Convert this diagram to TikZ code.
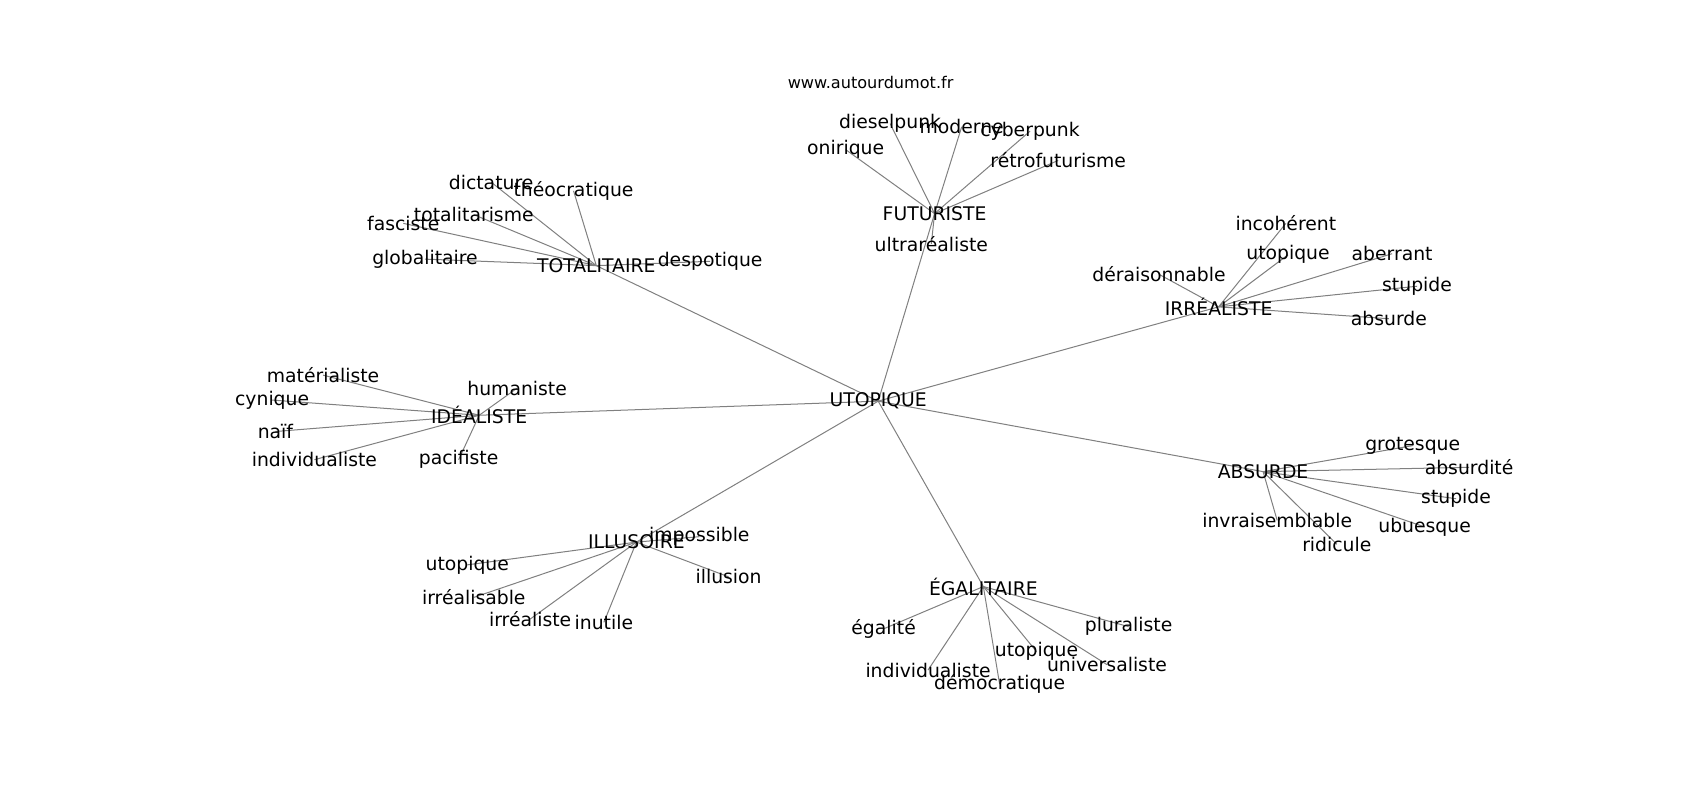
\documentclass[tikz,border=0pt]{standalone}
\usepackage{fontspec}
\setmainfont{DejaVu Sans}
\usepackage{tikz}
\usetikzlibrary{backgrounds}
\tikzset{
  palabra/.style={inner sep=0pt, font=\fontsize{14}{16}\selectfont, text=black},
  arista/.style={draw=gray, line width=0.75pt},
}

\begin{document}
\begin{tikzpicture}[x=0.2839mm, y=-0.2839mm]
  \useasboundingbox (0,0) rectangle (1568,738);
  % Título del sitio
  \node[font=\fontsize{12}{14}\selectfont] (web) at (803,76) {www.autourdumot.fr};
  % Palabra central y sus vecinos
  \node[palabra] (utopique) at (810,370) {UTOPIQUE};
  \foreach \n/\x/\y/\t in {totalitaire/550/245/TOTALITAIRE, futuriste/862/197/FUTURISTE,
      irrealiste/1124/283/IRRÉALISTE, idealiste/442/383/IDÉALISTE, absurde/1165/435/ABSURDE,
      illusoire/587/500/ILLUSOIRE, egalitaire/907/541/ÉGALITAIRE} {
    \node[palabra] (\n) at (\x,\y) {\t};
    \begin{pgfonlayer}{background}
      \draw[arista] (utopique.center) -- (\n.center);
    \end{pgfonlayer}
  }
  % Hojas de cada grupo
  \foreach \x/\y/\t [count=\i] in {453/168/dictature, 529/176/théocratique, 437/198/totalitarisme,
      372/206/fasciste, 392/239/globalitaire, 655/241/despotique} {
    \node[palabra] (totalitaire-\i) at (\x,\y) {\t};
    \begin{pgfonlayer}{background}
      \draw[arista] (totalitaire.center) -- (totalitaire-\i.center);
    \end{pgfonlayer}
  }
  \foreach \x/\y/\t [count=\i] in {821/114/dieselpunk, 887/117/moderne, 950/121/cyberpunk,
      780/138/onirique, 976/148/rétrofuturisme, 859/225/ultraréaliste} {
    \node[palabra] (futuriste-\i) at (\x,\y) {\t};
    \begin{pgfonlayer}{background}
      \draw[arista] (futuriste.center) -- (futuriste-\i.center);
    \end{pgfonlayer}
  }
  \foreach \x/\y/\t [count=\i] in {1186/206/incohérent, 1188/235/utopique, 1284/234/aberrant,
      1069/253/déraisonnable, 1307/264/stupide, 1281/294/absurde} {
    \node[palabra] (irrealiste-\i) at (\x,\y) {\t};
    \begin{pgfonlayer}{background}
      \draw[arista] (irrealiste.center) -- (irrealiste-\i.center);
    \end{pgfonlayer}
  }
  \foreach \x/\y/\t [count=\i] in {298/346/matérialiste, 477/358/humaniste, 251/369/cynique,
      254/398/naïf, 290/424/individualiste, 423/424/pacifiste} {
    \node[palabra] (idealiste-\i) at (\x,\y) {\t};
    \begin{pgfonlayer}{background}
      \draw[arista] (idealiste.center) -- (idealiste-\i.center);
    \end{pgfonlayer}
  }
  \foreach \x/\y/\t [count=\i] in {1303/411/grotesque, 1355/431/absurdité, 1343/460/stupide,
      1178/480/invraisemblable, 1314/486/ubuesque, 1233/502/ridicule} {
    \node[palabra] (absurde-\i) at (\x,\y) {\t};
    \begin{pgfonlayer}{background}
      \draw[arista] (absurde.center) -- (absurde-\i.center);
    \end{pgfonlayer}
  }
  \foreach \x/\y/\t [count=\i] in {645/495/impossible, 431/521/utopique, 672/532/illusion,
      437/551/irréalisable, 489/571/irréaliste, 557/574/inutile} {
    \node[palabra] (illusoire-\i) at (\x,\y) {\t};
    \begin{pgfonlayer}{background}
      \draw[arista] (illusoire.center) -- (illusoire-\i.center);
    \end{pgfonlayer}
  }
  \foreach \x/\y/\t [count=\i] in {815/580/égalité, 1041/578/pluraliste, 956/601/utopique,
      1021/613/universaliste, 856/618/individualiste, 922/631/démocratique} {
    \node[palabra] (egalitaire-\i) at (\x,\y) {\t};
    \begin{pgfonlayer}{background}
      \draw[arista] (egalitaire.center) -- (egalitaire-\i.center);
    \end{pgfonlayer}
  }
\end{tikzpicture}
\end{document}
